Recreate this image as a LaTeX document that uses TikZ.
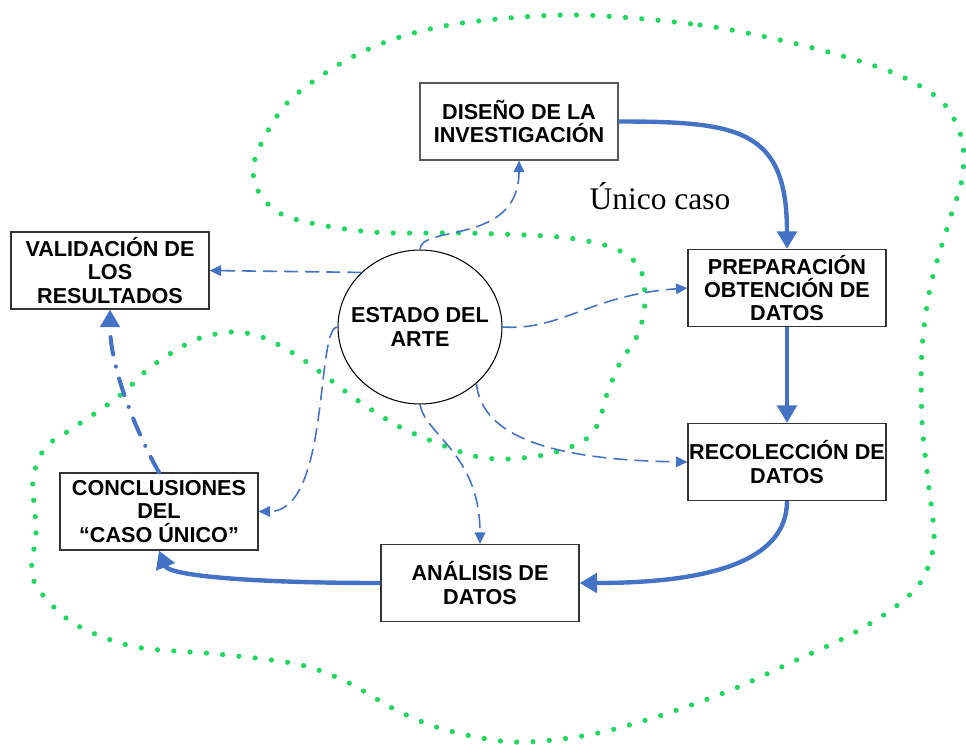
\documentclass[tikz,border=0pt]{standalone}
\usepackage{fontspec}
\setmainfont{Liberation Sans}
\newfontfamily\casofont{Liberation Serif}
\usepackage{xcolor}
\usepackage{tikz}
\usetikzlibrary{arrows.meta,shapes.geometric}
\definecolor{flowblue}{HTML}{4472C4}
\definecolor{zonegreen}{HTML}{22D662}
\definecolor{bk80}{HTML}{333333}
\tikzset{
  stagebox/.style={
    rectangle, draw=#1, fill=white, line width=0.7pt,
    minimum width=3.96cm, minimum height=1.54cm,
    font=\fontsize{12.3}{13.2}\selectfont\bfseries, align=center,
    inner sep=0pt
  },
  stagebox/.default=bk80,
  artenode/.style={
    ellipse, draw=black, fill=white, line width=0.6pt,
    minimum width=3.28cm, minimum height=3.08cm,
    font=\fontsize{12.3}{13.2}\selectfont\bfseries, align=center,
    inner xsep=-16pt, inner ysep=0pt
  },
  flowarrow/.style={
    -{Triangle[length=10pt,width=11pt]}, line width=2.5pt, color=flowblue
  },
  linkarrow/.style={
    -{Triangle[length=6.5pt,width=6pt]}, line width=0.9pt, color=flowblue,
    dash pattern=on 8pt off 4pt
  },
  validarrow/.style={
    -{Triangle[length=10pt,width=11pt]}, line width=2.3pt, color=flowblue,
    line cap=round, dash pattern=on 10pt off 7pt on 0.1pt off 7pt
  },
  zonedots/.style={
    draw=zonegreen, line width=3pt, line cap=round,
    dash pattern=on 0pt off 9.3pt
  },
}
\begin{document}
\begin{tikzpicture}[x=0.02cm,y=-0.02cm]
\useasboundingbox (0,0) rectangle (966,744);

% Dotted zone of the single case
\draw[zonedots] plot[smooth cycle, tension=0.55] coordinates {
  (577,15) (700,25) (793,43) (869,64) (913,82) (945,105) (962,140)
  (962,179) (949,222) (931,284) (922,349) (922,421) (928,480) (934,540)
  (922,580) (895,607) (850,635) (790,663) (731,690) (656,717) (588,735)
  (514,742) (446,730) (396,710) (347,682) (297,664) (217,654) (136,647)
  (80,627) (50,603) (32,575) (36,530) (33,480) (45,448) (70,430)
  (97,412) (123,393) (147,370) (173,352) (200,338) (233,332) (262,337)
  (293,353) (320,372) (360,402) (400,427) (447,447) (479,457) (508,459)
  (544,455) (573,446) (592,434) (601,415) (607,394) (620,363) (638,334)
  (645,302) (641,270) (629,257) (608,246) (559,237) (465,233) (371,232)
  (291,218) (262,197) (253,170) (263,140) (290,100) (343,62) (400,37)
  (470,22)};

% Stages
\node[stagebox=black!65] (diseno) at (519,121.5) {DISEÑO DE LA\\INVESTIGACIÓN};
\node[stagebox] (prep) at (787,288) {PREPARACIÓN\\OBTENCIÓN DE\\DATOS};
\node[stagebox] (recol) at (787,462) {RECOLECCIÓN DE\\DATOS};
\node[stagebox] (analisis) at (480,583) {ANÁLISIS DE\\DATOS};
\node[stagebox] (concl) at (159,511.5) {CONCLUSIONES\\DEL\\“CASO ÚNICO”};
\node[stagebox] (valid) at (110,270.5) {VALIDACIÓN DE\\LOS\\RESULTADOS};
\node[artenode] (arte) at (420,327) {ESTADO DEL\\ARTE};

\node[font=\casofont\fontsize{17.9}{20}\selectfont] (caso) at (660,196) {Único caso};

% Main flow arrows
\draw[flowarrow] (diseno.east) .. controls +(122,0) and +(0,-119) .. (prep.north);
\draw[flowarrow] (prep.south) -- (recol.north);
\draw[flowarrow] (recol.south) .. controls +(0,60) and +(130,0) .. (analisis.east);
\draw[flowarrow] (analisis.west) .. controls +(-130,0) and +(10,25) .. (concl.south);
\draw[validarrow] (concl.north) .. controls +(-20,-35) and +(0,60) .. (valid.south);

% Links from the state of the art
\draw[linkarrow] (arte.north) .. controls +(0,-25) and +(0,85) .. (diseno.south);
\draw[linkarrow] (arte.137) -- (valid.east);
\draw[linkarrow] (arte.west) .. controls +(-22,0) and +(72,0) .. (concl.east);
\draw[linkarrow] (arte.east) .. controls +(59,4) and +(-98,7) .. (prep.west);
\draw[linkarrow] (arte.-45) .. controls +(5,55) and +(-130,-2) .. (recol.west);
\draw[linkarrow] (arte.south) .. controls +(5,30) and +(0,-90) .. (analisis.north);

\end{tikzpicture}
\end{document}
